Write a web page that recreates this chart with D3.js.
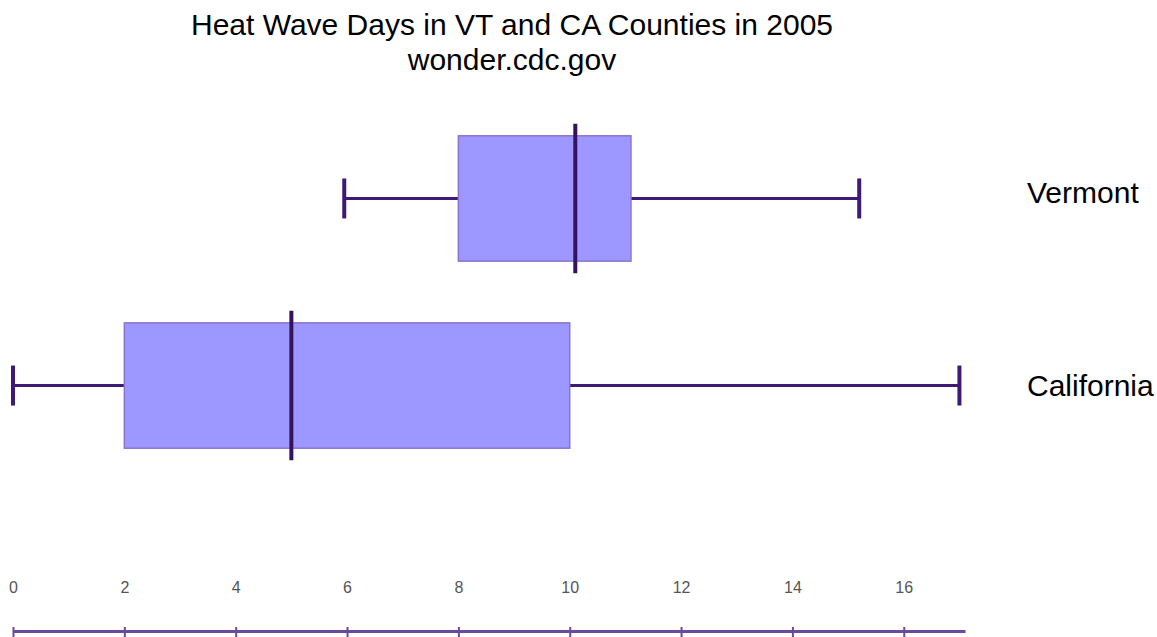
<!DOCTYPE html>
<html>
<head>
<meta charset="utf-8">
<script src="https://cdn.jsdelivr.net/npm/d3@7"></script>
<style>
  body { margin: 0; background: #fff; }
  text { font-family: "Liberation Sans", Arial, sans-serif; }
</style>
</head>
<body>
<div id="chart"></div>
<script>
const states = ['Vermont', 'California'];
const mins = [5.95, 0];
const q1s = [8, 2];
const medians = [10.1, 5];
const q3s = [11.1, 10];
const maxs = [15.2, 17];
const tickValues = [0, 2, 4, 6, 8, 10, 12, 14, 16];

const width = 1157;
const height = 637;

const data = states.map((s, i) => ({
    state: s, min: mins[i], q1: q1s[i], median: medians[i], q3: q3s[i], max: maxs[i]
}));

const scaleX = d3.scaleLinear()
.domain([0, 17.1])
.range([13, 965]);

const scaleY = d3.scaleBand()
.domain(states)
.range([104, 480])
.paddingInner(0.33)
.paddingOuter(0.17);

const svg = d3.select('#chart')
.append('svg')
.attr('width', width)
.attr('height', height);

svg.append('text')
.attr('x', 512).attr('y', 35)
.attr('text-anchor', 'middle')
.attr('font-size', 30)
.attr('fill', '#000')
.text('Heat Wave Days in VT and CA Counties in 2005');

svg.append('text')
.attr('x', 512).attr('y', 70)
.attr('text-anchor', 'middle')
.attr('font-size', 30)
.attr('fill', '#000')
.text('wonder.cdc.gov');

const group = svg.selectAll('g.box')
.data(data)
.enter()
.append('g')
.attr('class', 'box')
.attr('transform', d => `translate(0, ${scaleY(d.state) + scaleY.bandwidth() / 2})`);

const half = scaleY.bandwidth() / 2;

// whiskers
group.append('line')
.attr('x1', d => scaleX(d.min)).attr('x2', d => scaleX(d.q1))
.attr('stroke', '#3f1a74').attr('stroke-width', 3);
group.append('line')
.attr('x1', d => scaleX(d.q3)).attr('x2', d => scaleX(d.max))
.attr('stroke', '#3f1a74').attr('stroke-width', 3);

// caps
group.selectAll('line.cap')
.data(d => [d.min, d.max])
.enter()
.append('line')
.attr('class', 'cap')
.attr('x1', v => scaleX(v)).attr('x2', v => scaleX(v))
.attr('y1', -20).attr('y2', 20)
.attr('stroke', '#3f1a74').attr('stroke-width', 4);

// box
group.append('rect')
.attr('x', d => scaleX(d.q1))
.attr('y', -half)
.attr('width', d => scaleX(d.q3) - scaleX(d.q1))
.attr('height', half * 2)
.attr('fill', '#9c98ff')
.attr('stroke', '#8a74d0')
.attr('stroke-width', 1.5);

// median
group.append('line')
.attr('x1', d => scaleX(d.median)).attr('x2', d => scaleX(d.median))
.attr('y1', -half - 12).attr('y2', half + 12)
.attr('stroke', '#36135f').attr('stroke-width', 4);

// labels
group.append('text')
.attr('x', 1027)
.attr('y', (d, i) => i === 0 ? -6 : 0)
.attr('dy', '0.35em')
.attr('font-size', 30)
.attr('fill', '#000')
.text(d => d.state);

// axis
const xAxis = d3.axisBottom(scaleX)
.tickValues(tickValues)
.tickSizeOuter(0)
.tickSizeInner(0)
.tickFormat(d3.format('d'));

const groupAxisX = svg.append('g')
.attr('transform', 'translate(0, 631)')
.call(xAxis);

groupAxisX.select('.domain')
.attr('stroke', '#6a4a9c')
.attr('stroke-width', 3);

groupAxisX.selectAll('.tick line')
.attr('y1', -4).attr('y2', 6)
.attr('stroke', '#6a4a9c')
.attr('stroke-width', 2);

groupAxisX.selectAll('.tick text')
.attr('y', -44)
.attr('dy', '0.35em')
.attr('font-size', 16)
.attr('fill', '#555');
</script>
</body>
</html>
